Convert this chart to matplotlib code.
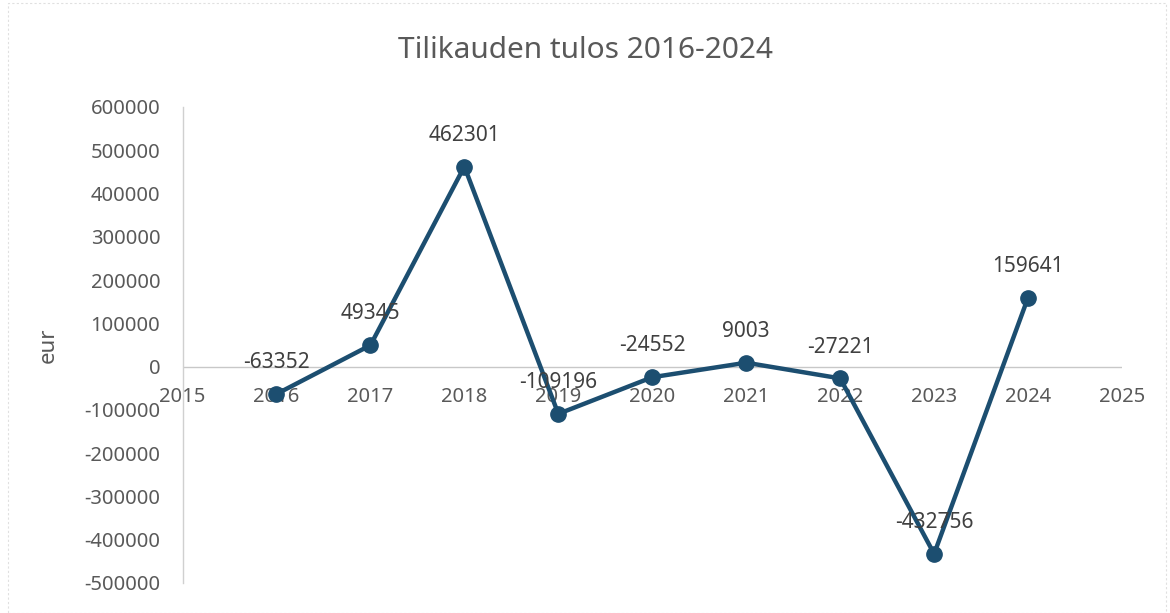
import matplotlib
matplotlib.use("Agg")
import matplotlib.pyplot as plt
from matplotlib.patches import Rectangle

years = [2016, 2017, 2018, 2019, 2020, 2021, 2022, 2023, 2024]
values = [-63352, 49345, 462301, -109196, -24552, 9003, -27221, -432756, 159641]
x_ticks = list(range(2015, 2026))
y_ticks = [600000, 500000, 400000, 300000, 200000, 100000, 0,
           -100000, -200000, -300000, -400000, -500000]

plt.rcParams['font.family'] = ['Noto Sans', 'DejaVu Sans']
line_color = '#1c4e70'
text_color = '#595959'

fig = plt.figure(figsize=(11.7, 6.13), dpi=100)
ax = fig.add_axes([0.156, 0.049, 0.803, 0.7765])

ax.plot(years, values, color=line_color, lw=3.2, marker='o', ms=11,
        markerfacecolor=line_color, markeredgecolor=line_color, zorder=3)

for x, v in zip(years, values):
    ax.annotate(str(v), (x, v), xytext=(0, 15), textcoords='offset points',
                ha='center', va='bottom', fontsize=15, color='#404040', zorder=4)

ax.set_xlim(2015, 2025)
ax.set_ylim(-500000, 600000)
ax.set_yticks(y_ticks)
ax.set_yticklabels([str(t) for t in y_ticks])
ax.set_xticks(x_ticks)

for s in ['top', 'right', 'bottom']:
    ax.spines[s].set_visible(False)
ax.spines['left'].set_color('#d0d0d0')
ax.spines['left'].set_linewidth(1)
ax.axhline(0, color='#c8c8c8', lw=1, zorder=1)

ax.tick_params(axis='y', length=0, labelsize=14.5, labelcolor=text_color, pad=16)
ax.tick_params(axis='x', length=0)
ax.set_xticklabels([])
for t in x_ticks:
    ax.annotate(str(t), (t, 0), xytext=(0, -15), textcoords='offset points',
                ha='center', va='top', fontsize=14.5, color=text_color, zorder=2)

ax.set_ylabel('eur', fontsize=16, color=text_color, labelpad=18)

fig.text(0.5, 0.918, 'Tilikauden tulos 2016-2024', ha='center', va='center',
         fontsize=21.5, color=text_color)

fig.patches.append(Rectangle((0.007, 0.0), 0.99, 0.995, transform=fig.transFigure,
                             fill=False, edgecolor='#e0e0e0', lw=0.8, ls=(0, (2, 2))))

fig.savefig('out.png', dpi=100)
